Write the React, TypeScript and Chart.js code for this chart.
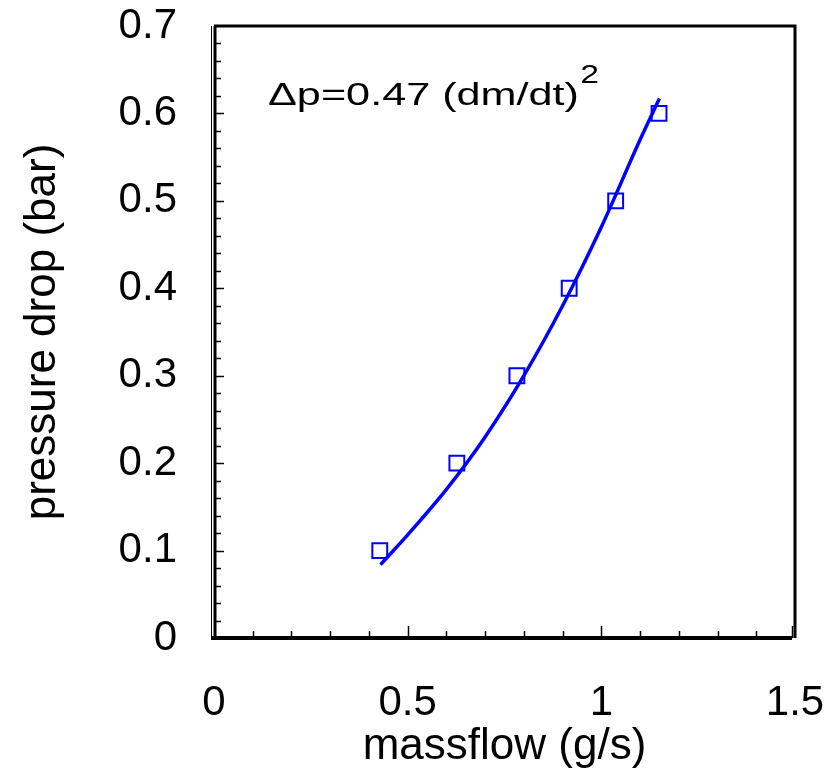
import React, { useEffect, useRef } from 'react';
import { Chart, registerables } from 'chart.js';

Chart.register(...registerables);

// ---- data ----
const measuredFlow = [0.428, 0.627, 0.782, 0.917, 1.037, 1.149];
const measuredDrop = [0.1, 0.2, 0.3, 0.4, 0.5, 0.6];
const fitFlow = [0.43, 0.5, 0.6, 0.7, 0.8, 0.9, 1.0, 1.1, 1.15];
const fitDrop = [0.084, 0.118, 0.17, 0.23, 0.3, 0.38, 0.47, 0.57, 0.617];
const xTickValues = [0, 0.5, 1, 1.5];
const xTickLabels = ['0', '0.5', '1', '1.5'];
const yTickValues = [0, 0.1, 0.2, 0.3, 0.4, 0.5, 0.6, 0.7];
const yTickLabels = ['0', '0.1', '0.2', '0.3', '0.4', '0.5', '0.6', '0.7'];
const xTitle = 'massflow (g/s)';
const yTitle = 'pressure drop (bar)';
const fitLabel = 'Δp=0.47 (dm/dt)';
const fitExponent = '2';

const FONT = '"Liberation Sans", Arial, Helvetica, sans-serif';
const BLUE = '#0000ff';

const framePlugin = {
  id: 'frame',
  afterDraw(chart: any) {
    const { ctx, chartArea: a, scales } = chart;
    const xs = scales.x;
    const ys = scales.y;
    ctx.save();
    ctx.strokeStyle = '#000';
    ctx.lineCap = 'butt';
    // inward minor / major ticks on x axis
    ctx.lineWidth = 1.5;
    for (let i = 1; i <= 15; i++) {
      const v = i / 10;
      const px = Math.round(xs.getPixelForValue(v)) - (i === 15 ? 3 : 0) + 0.5;
      const len = i % 5 === 0 ? 12 : 7;
      ctx.beginPath();
      ctx.moveTo(px, a.bottom);
      ctx.lineTo(px, a.bottom - len);
      ctx.stroke();
    }
    // inward ticks on y axis
    for (let i = 1; i < 35; i++) {
      const v = i / 50;
      const py = Math.round(ys.getPixelForValue(v)) + 0.5;
      const len = i % 5 === 0 ? 10 : 7;
      ctx.beginPath();
      ctx.moveTo(a.left, py);
      ctx.lineTo(a.left + len, py);
      ctx.stroke();
    }
    // frame
    ctx.lineWidth = 3;
    ctx.beginPath();
    ctx.moveTo(a.left, a.top);
    ctx.lineTo(a.right, a.top);
    ctx.lineTo(a.right, a.bottom);
    ctx.stroke();
    ctx.beginPath();
    ctx.moveTo(a.left + 1, a.top);
    ctx.lineTo(a.left + 1, a.bottom);
    ctx.stroke();
    ctx.lineWidth = 1;
    ctx.beginPath();
    ctx.moveTo(a.left - 2.5, a.top);
    ctx.lineTo(a.left - 2.5, a.bottom + 2);
    ctx.stroke();
    ctx.lineWidth = 4;
    ctx.beginPath();
    ctx.moveTo(a.left - 3, a.bottom);
    ctx.lineTo(a.right - 3, a.bottom);
    ctx.stroke();

    // annotation (horizontally stretched as in the original)
    ctx.fillStyle = '#000';
    ctx.textBaseline = 'alphabetic';
    ctx.textAlign = 'left';
    ctx.translate(a.left + 54, a.top + 79);
    ctx.scale(1.35, 1);
    ctx.font = `32px ${FONT}`;
    ctx.fillText(fitLabel, 0, 0);
    const w = ctx.measureText(fitLabel).width;
    ctx.font = `25px ${FONT}`;
    ctx.fillText(fitExponent, w + 1, -22);
    ctx.restore();
  },
};

const zeroPadding = (s: any) => {
  s.paddingLeft = 0;
  s.paddingRight = 0;
  s.paddingTop = 0;
  s.paddingBottom = 0;
};

export default function App() {
  const ref = useRef<HTMLCanvasElement | null>(null);

  useEffect(() => {
    if (!ref.current) return;
    const chart = new Chart(ref.current, {
      type: 'scatter',
      data: {
        datasets: [
          {
            label: 'fit',
            data: fitFlow.map((x, i) => ({ x, y: fitDrop[i] })),
            showLine: true,
            borderColor: BLUE,
            borderWidth: 3.5,
            pointRadius: 0,
            tension: 0.4,
            cubicInterpolationMode: 'monotone',
            fill: false,
          },
          {
            label: 'measured',
            data: measuredFlow.map((x, i) => ({ x, y: measuredDrop[i] })),
            showLine: false,
            pointStyle: 'rect',
            pointRadius: 10.5,
            pointBorderWidth: 2,
            pointBorderColor: BLUE,
            pointBackgroundColor: '#ffffff',
          },
        ],
      },
      options: {
        responsive: false,
        animation: false,
        events: [],
        layout: { padding: { top: 26, right: 40, left: 0, bottom: 0 } },
        plugins: { legend: { display: false }, tooltip: { enabled: false } },
        scales: {
          x: {
            type: 'linear',
            min: 0,
            max: 1.5,
            afterBuildTicks: (s: any) => {
              s.ticks = xTickValues.map((v) => ({ value: v }));
            },
            afterFit: (s: any) => {
              s.height = 146;
              zeroPadding(s);
            },
            grid: { display: false, drawTicks: false },
            border: { display: false },
            ticks: {
              autoSkip: false,
              maxRotation: 0,
              padding: 44,
              color: '#000',
              font: { family: FONT, size: 42, lineHeight: 1 },
              callback: (v: any) => xTickLabels[xTickValues.indexOf(Number(v))] ?? '',
            },
            title: {
              display: true,
              text: xTitle,
              color: '#000',
              font: { family: FONT, size: 44 },
              padding: { top: 0, bottom: 11 },
            },
          },
          y: {
            type: 'linear',
            min: 0,
            max: 0.7,
            afterBuildTicks: (s: any) => {
              s.ticks = yTickValues.map((v) => ({ value: v }));
            },
            afterFit: (s: any) => {
              s.width = 214;
              zeroPadding(s);
            },
            grid: { display: false, drawTicks: false },
            border: { display: false },
            ticks: {
              autoSkip: false,
              padding: 37,
              color: '#000',
              font: { family: FONT, size: 42, lineHeight: 1 },
              callback: (v: any) => yTickLabels[yTickValues.indexOf(Number(v))] ?? '',
            },
            title: {
              display: true,
              text: yTitle,
              color: '#000',
              font: { family: FONT, size: 44 },
              padding: { top: 16, bottom: 0 },
            },
          },
        },
      },
      plugins: [framePlugin],
    } as any);
    return () => chart.destroy();
  }, []);

  return (
    <canvas
      ref={ref}
      width={835}
      height={784}
      style={{ position: 'absolute', left: 0, top: 0, display: 'block' }}
    />
  );
}
